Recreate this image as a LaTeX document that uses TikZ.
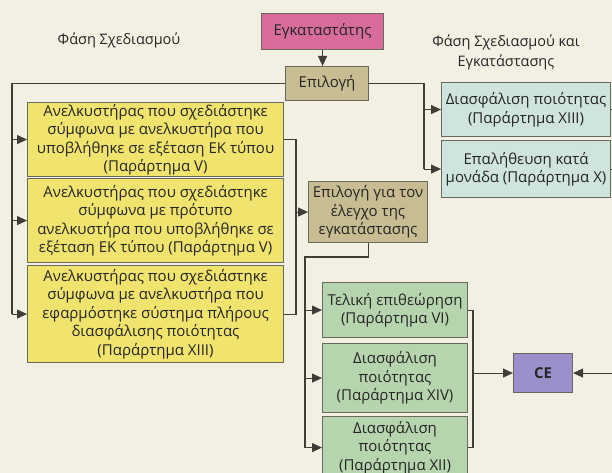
\documentclass[tikz,border=0pt]{standalone}
\usepackage{fontspec}
\setmainfont{Open Sans}
\usetikzlibrary{arrows.meta,calc}
\definecolor{bgcream}{HTML}{F2EFE3}
\definecolor{lineGray}{HTML}{3E3E36}
\definecolor{boxEdge}{HTML}{6A6A5C}
\definecolor{pinkFill}{HTML}{D86C9D}
\definecolor{tanFill}{HTML}{C8BC92}
\definecolor{yellowFill}{HTML}{F0E36E}
\definecolor{blueFill}{HTML}{CFE3DF}
\definecolor{greenFill}{HTML}{B6D5AE}
\definecolor{purpleFill}{HTML}{9C90CB}
\tikzset{
	flowbox/.style={draw=boxEdge, line width=1.1pt, align=center, inner sep=1pt, anchor=north west, text=black!85, font=\fontsize{15}{18.5}\selectfont},
	pinkbox/.style={flowbox, fill=pinkFill},
	tanbox/.style={flowbox, fill=tanFill},
	yellowbox/.style={flowbox, fill=yellowFill},
	bluebox/.style={flowbox, fill=blueFill},
	greenbox/.style={flowbox, fill=greenFill},
	purplebox/.style={flowbox, fill=purpleFill, font=\fontsize{15}{17}\selectfont\bfseries},
	phase/.style={align=center, text=black!85, font=\fontsize{14.5}{20}\selectfont},
	link/.style={draw=lineGray, line width=1.1pt},
	linkarr/.style={link, -{Triangle[length=10pt,width=9pt]}}
}
\begin{document}
\begin{tikzpicture}[x=1pt,y=-1pt]
		%%%%% START %%%%%
		
		\fill[bgcream] (0,0) rectangle (612,473);
		\useasboundingbox (0,0) rectangle (612,473);
		
		\node[phase] (phaseDesign) at (119,40) {Φάση Σχεδιασμού};
		\node[phase] (phaseInstall) at (506,52) {Φάση Σχεδιασμού και\\Εγκατάστασης};
		
		\node[pinkbox, minimum width=122, minimum height=36] (installer) at (261,13) {Εγκαταστάτης};
		\node[tanbox, minimum width=83, minimum height=34] (choice) at (285,66) {Επιλογή};
		
		\node[yellowbox, minimum width=256, minimum height=74] (lift1) at (27,102) {Ανελκυστήρας που σχεδιάστηκε\\σύμφωνα με ανελκυστήρα που\\υποβλήθηκε σε εξέταση ΕΚ τύπου\\(Παράρτημα V)};
		\node[yellowbox, minimum width=256, minimum height=84] (lift2) at (27,178) {Ανελκυστήρας που σχεδιάστηκε\\σύμφωνα με πρότυπο\\ανελκυστήρα που υποβλήθηκε σε\\εξέταση ΕΚ τύπου (Παράρτημα V)};
		\node[yellowbox, minimum width=256, minimum height=97] (lift3) at (27,265) {Ανελκυστήρας που σχεδιάστηκε\\σύμφωνα με ανελκυστήρα που\\εφαρμόστηκε σύστημα πλήρους\\διασφάλισης ποιότητας\\(Παράρτημα XIII)};
		
		\node[bluebox, minimum width=169, minimum height=54] (qa13) at (441,82) {Διασφάλιση ποιότητας\\(Παράρτημα XIII)};
		\node[bluebox, minimum width=169, minimum height=57] (unit10) at (441,140) {Επαλήθευση κατά\\μονάδα (Παράρτημα X)};
		
		\node[tanbox, minimum width=119, minimum height=61] (control) at (308,181) {Επιλογή για τον\\έλεγχο της\\εγκατάστασης};
		
		\node[greenbox, minimum width=145, minimum height=55] (final6) at (322,282) {Τελική επιθεώρηση\\(Παράρτημα VI)};
		\node[greenbox, minimum width=145, minimum height=69] (qa14) at (322,343) {Διασφάλιση\\ποιότητας\\(Παράρτημα XIV)};
		\node[greenbox, minimum width=145, minimum height=62] (qa12) at (322,416) {Διασφάλιση\\ποιότητας\\(Παράρτημα XII)};
		
		\node[purplebox, minimum width=59, minimum height=39] (ce) at (513,353) {CE};
		
		\coordinate (leftBus) at (12,0);
		\coordinate (liftBus) at (296,0);
		\coordinate (topBus) at (424,0);
		\coordinate (ctrlTurn) at (305,257);
		\coordinate (greenBus) at (473,0);
		\coordinate (rightEdge) at (612,0);
		
		\draw[linkarr] (installer.south) -- (installer.south |- choice.north);
		
		\draw[link] (choice.west) -- (choice.west -| leftBus) -- (leftBus |- lift3.west);
		\draw[linkarr] (leftBus |- lift1.west) -- (lift1.west);
		\draw[linkarr] (leftBus |- lift2.west) -- (lift2.west);
		\draw[linkarr] (leftBus |- lift3.west) -- (lift3.west);
		
		\draw[link] (choice.east) -- (choice.east -| topBus) -- (topBus |- unit10.west);
		\draw[linkarr] (topBus |- qa13.west) -- (qa13.west);
		\draw[linkarr] (topBus |- unit10.west) -- (unit10.west);
		\draw[link] (qa13.east) -- (qa13.east -| rightEdge);
		\draw[link] (unit10.east) -- (unit10.east -| rightEdge);
		
		\draw[link] (lift1.east) -- (lift1.east -| liftBus) -- (liftBus |- lift3.east) -- (lift3.east);
		\draw[linkarr] (liftBus |- control.west) -- (control.west);
		
		\draw[link] (control.south) |- (ctrlTurn) -- (ctrlTurn |- qa12.west);
		\draw[linkarr] (ctrlTurn |- final6.west) -- (final6.west);
		\draw[linkarr] (ctrlTurn |- qa14.west) -- (qa14.west);
		\draw[linkarr] (ctrlTurn |- qa12.west) -- (qa12.west);
		
		\draw[link] (final6.east) -- (final6.east -| greenBus) -- (greenBus |- qa12.east) -- (qa12.east);
		\draw[linkarr] (greenBus |- ce.west) -- (ce.west);
		\draw[linkarr] (ce.east -| rightEdge) -- (ce.east);
		
		%%%%% END %%%%%
	\end{tikzpicture}
\end{document}
